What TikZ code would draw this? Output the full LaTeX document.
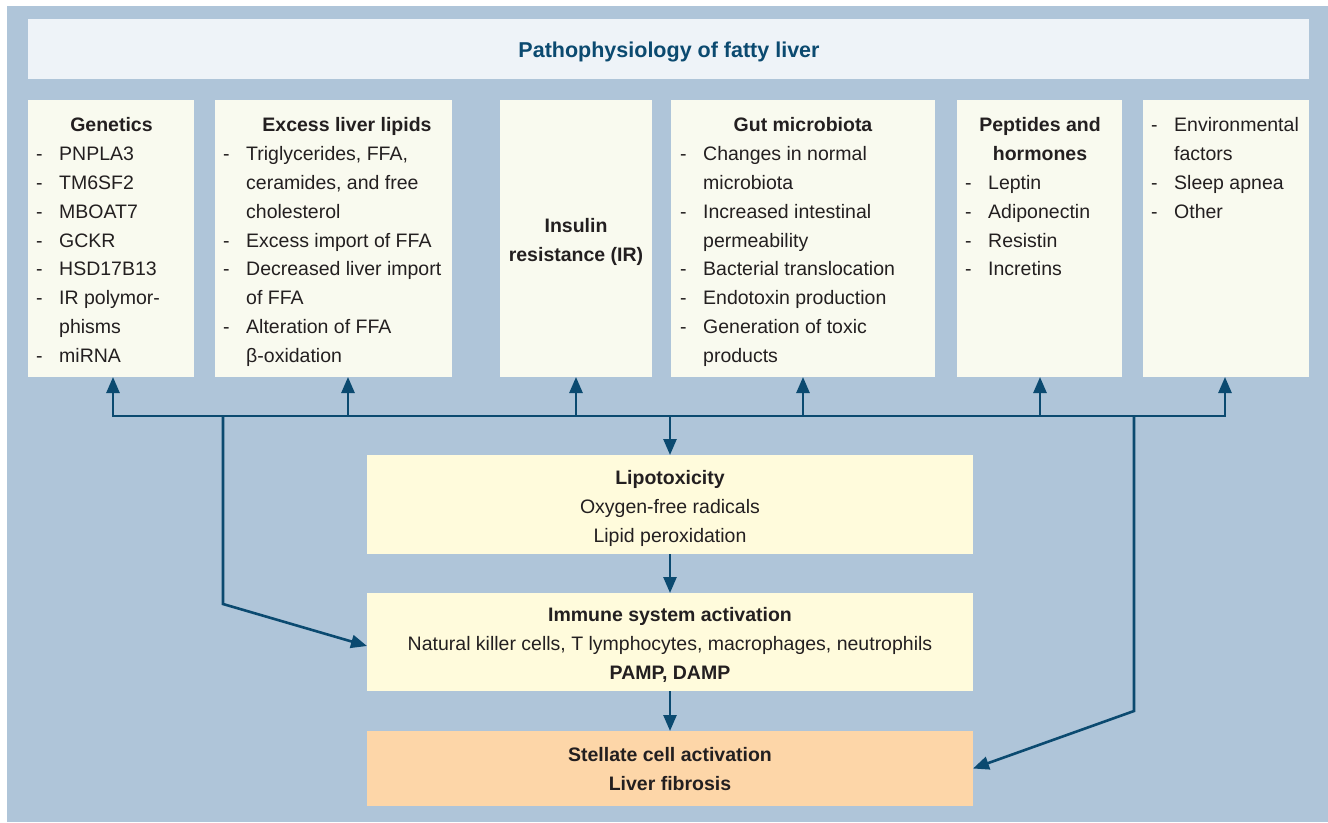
\documentclass[tikz,border=0pt]{standalone}
\usepackage{fontspec}
\setmainfont{Liberation Sans}
\usetikzlibrary{arrows.meta}
\definecolor{bgblue}{HTML}{AFC5D9}
\definecolor{titlefill}{HTML}{EEF3F8}
\definecolor{topfill}{HTML}{F9FAEF}
\definecolor{midfill}{HTML}{FFFBDC}
\definecolor{stelfill}{HTML}{FDD6A8}
\definecolor{linecol}{HTML}{0B4A70}
\definecolor{txtcol}{HTML}{231F20}
\newcommand\itm[4]{\node[txt] (#1-d) at (#2,#3+7) {-}; \node[txt] (#1) at (#2+23,#3+7) {#4};}
\newcommand\cnt[4]{\node[txt] (#1) at (#2+23,#3+7) {#4};}
\begin{document}
\begin{tikzpicture}[x=1pt,y=-1pt,
  box/.style={draw=none,inner sep=0pt,outer sep=0pt},
  txt/.style={anchor=base west,inner sep=0pt,text=txtcol,font=\fontsize{19.5}{29}\selectfont},
  ctxt/.style={anchor=base,inner sep=0pt,text=txtcol,font=\fontsize{19.5}{29}\selectfont},
  btxt/.style={anchor=base,inner sep=0pt,text=txtcol,font=\fontsize{19.5}{29}\selectfont\bfseries},
  arr/.style={draw=linecol,line width=2.6pt,-{Triangle[length=16pt,width=13pt]}},
  ln/.style={draw=linecol,line width=2.6pt}]
\useasboundingbox (0,0) rectangle (1328,822);
\fill[bgblue] (7,6) rectangle (1328,822);
% boxes
\node[box,fill=titlefill,minimum width=1281pt,minimum height=60pt] (title) at (668.5,49) {};
\node[box,fill=topfill,minimum width=166pt,minimum height=277pt] (gen) at (111,238.5) {};
\node[box,fill=topfill,minimum width=237pt,minimum height=277pt] (exc) at (333.5,238.5) {};
\node[box,fill=topfill,minimum width=152pt,minimum height=277pt] (ins) at (576,238.5) {};
\node[box,fill=topfill,minimum width=264pt,minimum height=277pt] (gut) at (803,238.5) {};
\node[box,fill=topfill,minimum width=165pt,minimum height=277pt] (pep) at (1039.5,238.5) {};
\node[box,fill=topfill,minimum width=166pt,minimum height=277pt] (env) at (1226,238.5) {};
\node[box,fill=midfill,minimum width=606pt,minimum height=99pt] (lip) at (670,504.5) {};
\node[box,fill=midfill,minimum width=606pt,minimum height=98pt] (imm) at (670,642) {};
\node[box,fill=stelfill,minimum width=606pt,minimum height=75pt] (ste) at (670,768.5) {};
% title
\node[anchor=base,inner sep=0pt,text=linecol,font=\fontsize{21.5}{26}\selectfont\bfseries] (titletxt) at (669,57.5) {Pathophysiology of fatty liver};
% genetics
\node[btxt] (gen-h) at (111.5,131) {Genetics};
\itm{g1}{36}{153}{PNPLA3}
\itm{g2}{36}{182}{TM6SF2}
\itm{g3}{36}{211}{MBOAT7}
\itm{g4}{36}{240}{GCKR}
\itm{g5}{36}{268}{HSD17B13}
\itm{g6}{36}{297}{IR polymor-}
\cnt{g7}{36}{326}{phisms}
\itm{g8}{36}{355}{miRNA}
% excess
\node[btxt] (exc-h) at (347,131) {Excess liver lipids};
\itm{e1}{223}{153}{Triglycerides, FFA,}
\cnt{e2}{223}{182}{ceramides, and free}
\cnt{e3}{223}{211}{cholesterol}
\itm{e4}{223}{240}{Excess import of FFA}
\itm{e5}{223}{268}{Decreased liver import}
\cnt{e6}{223}{297}{of FFA}
\itm{e7}{223}{326}{Alteration of FFA}
\cnt{e8}{223}{355}{β-oxidation}
% insulin
\node[btxt] (ins-1) at (576,232) {Insulin};
\node[btxt] (ins-2) at (576,261) {resistance (IR)};
% gut
\node[btxt] (gut-h) at (803,131) {Gut microbiota};
\itm{u1}{680}{153}{Changes in normal}
\cnt{u2}{680}{182}{microbiota}
\itm{u3}{680}{211}{Increased intestinal}
\cnt{u4}{680}{240}{permeability}
\itm{u5}{680}{268}{Bacterial translocation}
\itm{u6}{680}{297}{Endotoxin production}
\itm{u7}{680}{326}{Generation of toxic}
\cnt{u8}{680}{355}{products}
% peptides
\node[btxt] (pep-h1) at (1040,131) {Peptides and};
\node[btxt] (pep-h2) at (1040,160) {hormones};
\itm{p1}{965}{182}{Leptin}
\itm{p2}{965}{211}{Adiponectin}
\itm{p3}{965}{240}{Resistin}
\itm{p4}{965}{268}{Incretins}
% environment
\itm{v1}{1151}{124}{Environmental}
\cnt{v2}{1151}{153}{factors}
\itm{v3}{1151}{182}{Sleep apnea}
\itm{v4}{1151}{211}{Other}
% middle boxes
\node[btxt] (lip-1) at (670,484) {Lipotoxicity};
\node[ctxt] (lip-2) at (670,513) {Oxygen-free radicals};
\node[ctxt] (lip-3) at (670,542) {Lipid peroxidation};
\node[btxt] (imm-1) at (670,621) {Immune system activation};
\node[ctxt] (imm-2) at (670,650) {Natural killer cells, T lymphocytes, macrophages, neutrophils};
\node[btxt] (imm-3) at (670,679) {PAMP, DAMP};
\node[btxt] (ste-1) at (670,761) {Stellate cell activation};
\node[btxt] (ste-2) at (670,790) {Liver fibrosis};
% connectors
\coordinate (bL) at (113,416);
\coordinate (bR) at (1225,416);
\coordinate (b2) at (348,416);
\coordinate (b3) at (576,416);
\coordinate (bC) at (670,416);
\coordinate (b4) at (803,416);
\coordinate (b5) at (1040,416);
\coordinate (dL) at (223,416);
\coordinate (dR) at (1134,416);
\coordinate (kL) at (223,604);
\coordinate (kR) at (1134,711);
\draw[ln,line cap=rect] (bL) -- (bR);
\draw[arr] (bL) -- (bL |- gen.south);
\draw[arr] (b2) -- (b2 |- exc.south);
\draw[arr] (b3) -- (b3 |- ins.south);
\draw[arr] (b4) -- (b4 |- gut.south);
\draw[arr] (b5) -- (b5 |- pep.south);
\draw[arr] (bR) -- (bR |- env.south);
\draw[arr] (bC) -- (lip.north);
\draw[arr] (lip.south) -- (imm.north);
\draw[arr] (imm.south) -- (ste.north);
\draw[arr,line join=miter] (dL) -- (kL) -- ([yshift=-4pt]imm.west);
\draw[arr,line join=miter] (dR) -- (kR) -- (ste.east);
\end{tikzpicture}
\end{document}
